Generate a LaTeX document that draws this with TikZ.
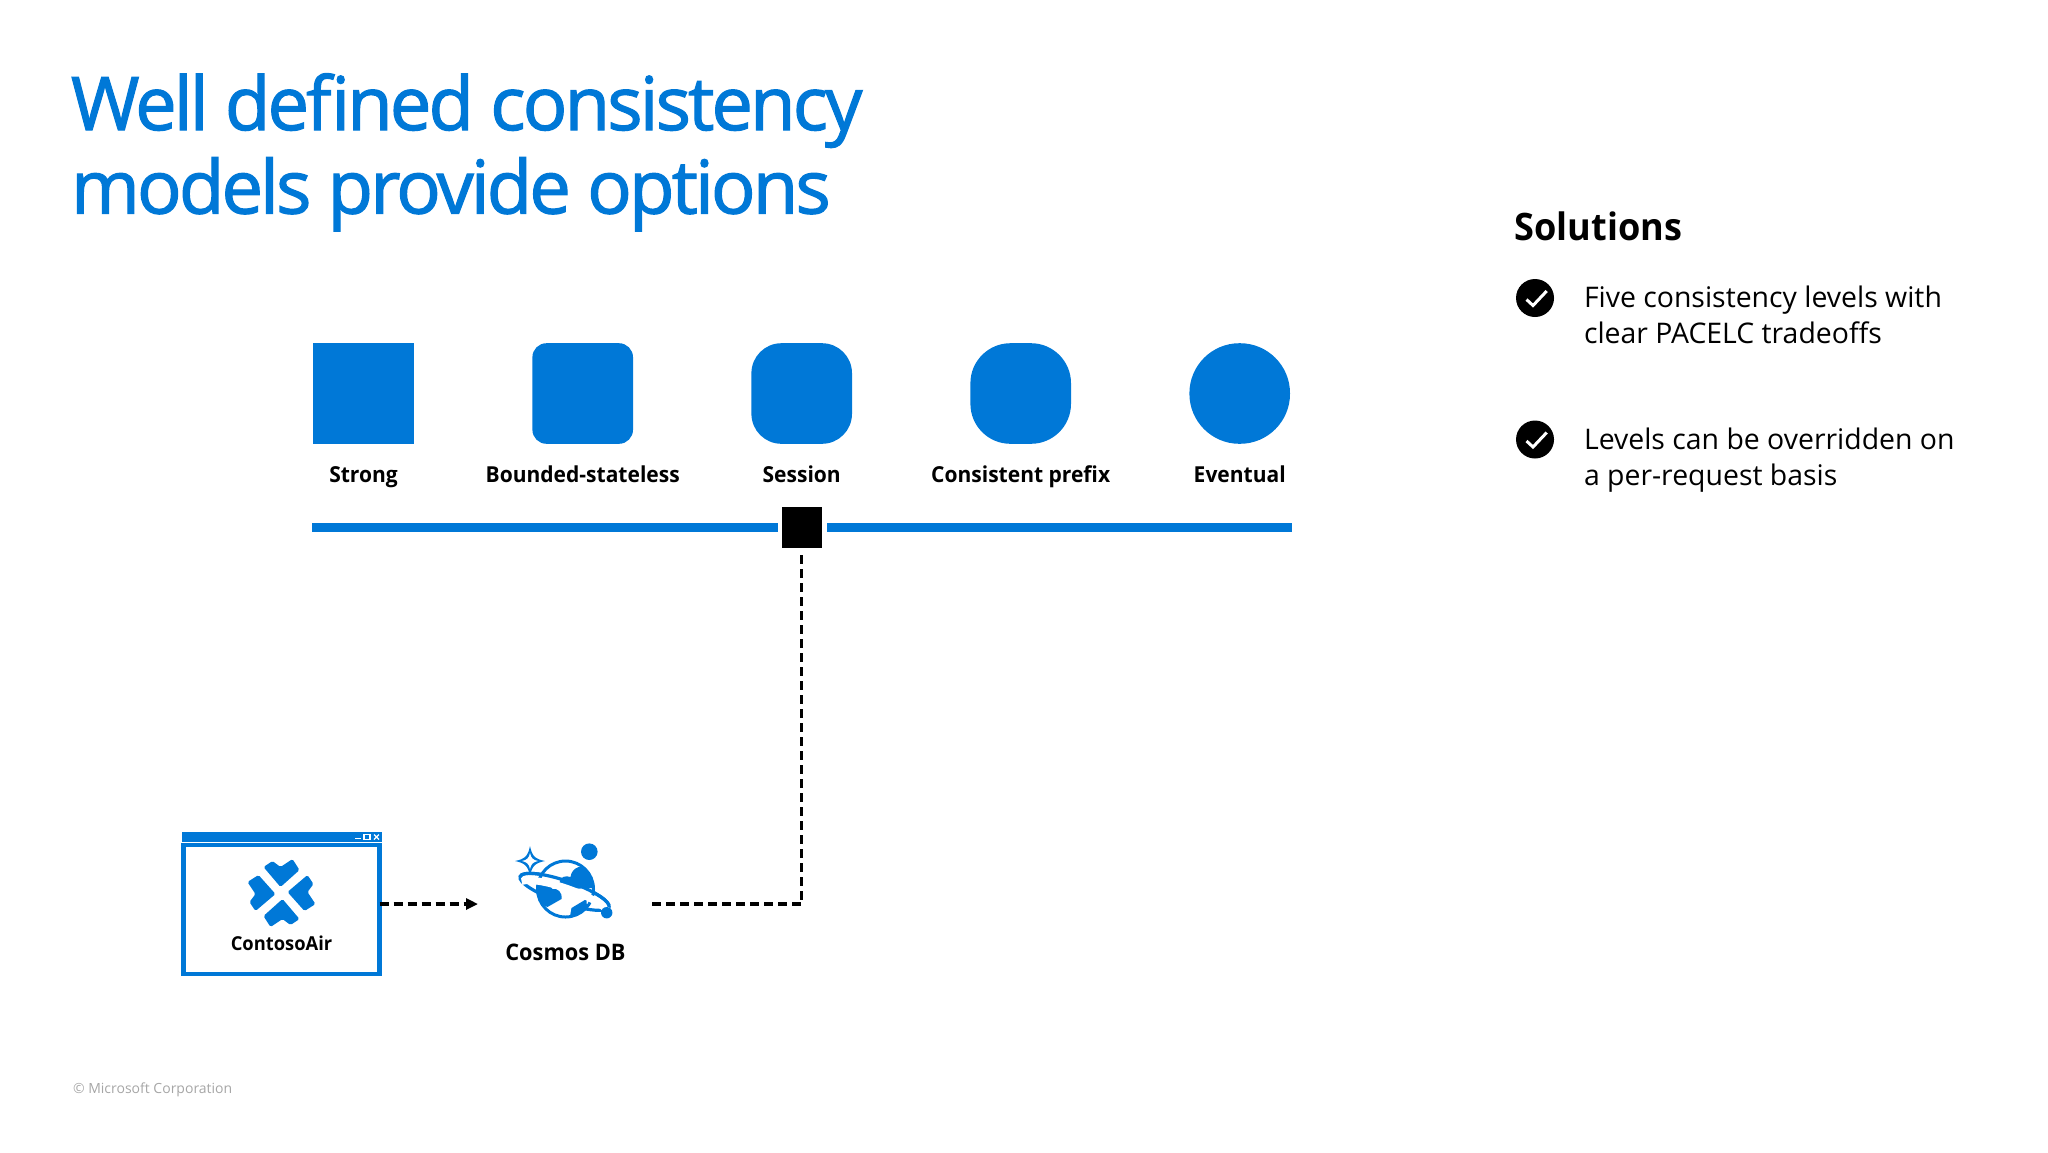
\documentclass[tikz,border=0pt]{standalone}
\usepackage{fontspec}
\usetikzlibrary{arrows.meta,calc}
\setmainfont{Open Sans}
\newfontfamily\titlefont[FakeBold=1.6,LetterSpace=-3.8]{Open Sans}
\newfontfamily\bodyfont{Open Sans}
\newfontfamily\semifont[FakeStretch=0.955]{Open Sans Bold}
\definecolor{azure}{HTML}{0078D7}
\definecolor{foot}{HTML}{A6A6A6}
\tikzset{
  every node/.style={inner sep=0pt,outer sep=0pt},
  level/.style={fill=azure,minimum width=50.3pt,minimum height=50.3pt,rounded corners=#1},
  levellabel/.style={font=\semifont\fontsize{11}{13}\selectfont,anchor=base},
  link/.style={draw=black,line width=1.6pt,dash pattern=on 4.5pt off 2.5pt},
  bodytext/.style={font=\bodyfont\fontsize{14.2}{18}\selectfont,anchor=base west},
  checkdisc/.style={circle,fill=black,minimum size=19pt},
  tick/.style={draw=white,line width=1.5pt},
}
\begin{document}
\begin{tikzpicture}[x=0.5pt,y=-0.5pt]
\useasboundingbox (0,0) rectangle (2048,1152);
% title
\node[anchor=base west,text=azure,font=\titlefont\fontsize{37}{37}\selectfont] (title1) at (71,130) {Well defined consistency};
\node[anchor=base west,text=azure,font=\titlefont\fontsize{37}{37}\selectfont] (title2) at (71,213.5) {models provide options};
% levels
\node[level=0pt] (strong) at (363.5,393.5) {};
\node[level=7pt] (bounded) at (582.7,393.5) {};
\node[level=15pt] (session) at (801.7,393.5) {};
\node[level=20pt] (prefix) at (1020.7,393.5) {};
\node[level=25pt] (eventual) at (1239.7,393.5) {};
\node[levellabel] (lstrong) at (363.5,482) {Strong};
\node[levellabel] (lbounded) at (582.7,482) {Bounded-stateless};
\node[levellabel] (lsession) at (801.7,482) {Session};
\node[levellabel] (lprefix) at (1020.7,482) {Consistent prefix};
\node[levellabel] (leventual) at (1239.7,482) {Eventual};
% slider
\fill[azure] (312,523) rectangle (777.5,532);
\fill[azure] (827,523) rectangle (1292,532);
\node[fill=black,minimum width=20.2pt,minimum height=20.2pt] (marker) at (801.7,527.5) {};
% application window
\fill[azure] (181.5,832) rectangle (381.5,842);
\node[draw=azure,line width=2.2pt,fill=white,minimum width=98pt,minimum height=64.5pt,anchor=north west] (win) at (183.5,845) {};
\draw[white,line width=.7pt] (355,838.5) -- (361,838.5);
\draw[white,line width=.6pt] (364,834.5) rectangle (370,839.5);
\draw[white,line width=.6pt] (374,834.5) -- (379,839.5) (379,834.5) -- (374,839.5);
\begin{scope}[shift={(281.5,893)}]
\foreach \a in {0,90,180,270}
  \fill[azure,rotate=\a,rounded corners=.8pt] (-18,-26) -- (-9,-32) -- (-1,-26) -- (11,-34) -- (18,-23) -- (-1,-6) -- cycle;
\end{scope}
\node[font=\semifont\fontsize{9.6}{11}\selectfont,anchor=base] (lwin) at (281.5,950) {ContosoAir};
% cosmos icon
\begin{scope}[shift={(565.5,889)}]
\draw[azure,line width=1.6pt,rotate=-19] (0,3) ellipse[x radius=47,y radius=11];
\draw[azure,line width=1.5pt,fill=white] (0,0) circle (28);
\begin{scope}
\clip (0,0) circle (28);
\fill[azure] (-6,-6) .. controls (-6,-12) and (0,-14) .. (5,-12) .. controls (6,-22) and (18,-26) .. (24,-18) -- (30,-8) -- (30,-1) -- (-1,0) .. controls (-5,0) and (-6,-3) .. (-6,-6) -- cycle;
\fill[azure] (-30,-4) .. controls (-22,-7) and (-15,-5) .. (-13,0) .. controls (-8,-1) and (-3,3) .. (-4,10) -- (-18,18) -- (-30,12) -- cycle;
\fill[azure] (4,30) -- (6,19) -- (21,10) -- (22,30) -- cycle;
\end{scope}
\draw[white,line width=3.6pt,rotate=-19] (-44,7) arc[start angle=196,end angle=344,x radius=47,y radius=11];
\draw[azure,line width=1.6pt,rotate=-19] (-47,3) arc[start angle=180,end angle=360,x radius=47,y radius=11];
\end{scope}
\fill[azure] (530,846) .. controls (532,856) and (535,859) .. (545,861) .. controls (535,863) and (532,866) .. (530,876) .. controls (528,866) and (525,863) .. (515,861) .. controls (525,859) and (528,856) .. (530,846) -- cycle;
\fill[white] (530,853) .. controls (531,858) and (533,860) .. (538,861) .. controls (533,862) and (531,864) .. (530,869) .. controls (529,864) and (527,862) .. (522,861) .. controls (527,860) and (529,858) .. (530,853) -- cycle;
\fill[azure] (589.3,851.7) circle (8.3);
\fill[azure] (606.7,912.7) circle (5.7);
\node[minimum width=87pt,minimum height=1pt] (cosmos) at (565,904) {};
\node[font=\semifont\fontsize{11.4}{13}\selectfont,anchor=base] (lcosmos) at (565.5,960) {Cosmos DB};
% connectors
\draw[link,-{Triangle[length=6pt,width=5.5pt]}] (win.east |- cosmos.west) -- (cosmos.west);
\coordinate (mbelow) at ($(marker.south)+(0,3)$);
\draw[link] (cosmos.east) -| (mbelow);
% right panel
\node[font=\semifont\fontsize{18.9}{22}\selectfont,anchor=base west] (solutions) at (1514.5,240) {Solutions};
\node[checkdisc] (check1) at (1535,298) {};
\draw[tick] (1526.5,299.5) -- (1533,305.5) -- (1546.7,291);
\node[bodytext] (text1a) at (1584,307) {Five consistency levels with};
\node[bodytext] (text1b) at (1584,343) {clear PACELC tradeoffs};
\node[checkdisc] (check2) at (1535,439.5) {};
\draw[tick] (1526.5,441) -- (1533,447) -- (1546.7,432.5);
\node[bodytext] (text2a) at (1584,449) {Levels can be overridden on};
\node[bodytext] (text2b) at (1584,485) {a per-request basis};
% footer
\node[anchor=base west,text=foot,font=\fontsize{7}{9}\selectfont] (footer) at (73,1093) {© Microsoft Corporation};
\end{tikzpicture}
\end{document}
